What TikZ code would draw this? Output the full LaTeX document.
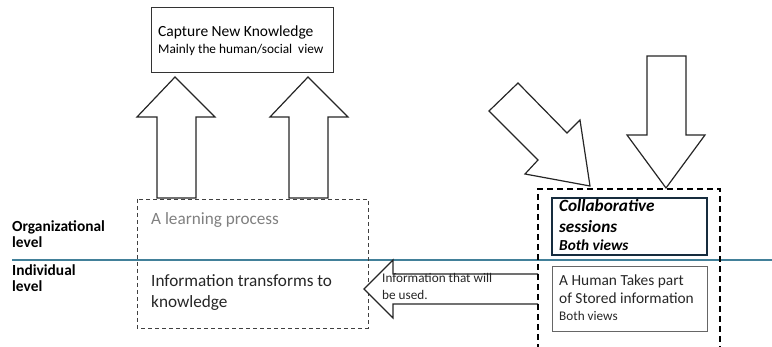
\documentclass[tikz,border=0pt]{standalone}
\usepackage{fontspec}
\setmainfont{Carlito}
\begin{document}
\begin{tikzpicture}[x=1pt,y=-1pt,
  blockarrow/.style={draw=black!85,line width=1.2pt,fill=white,line join=miter},
  plainbox/.style={draw=black!80,line width=1pt,minimum width=0pt,inner sep=0pt},
  txt/.style={anchor=base west,inner sep=0pt},
  midtxt/.style={txt,font=\fontsize{15.4}{17}\selectfont},
  smalltxt/.style={txt,font=\fontsize{13.2}{15}\selectfont},
  leveltxt/.style={txt,font=\bfseries\fontsize{15.4}{17}\selectfont}]
\useasboundingbox (0,0) rectangle (772,347);
\clip (0,0) rectangle (772,347);

% top box
\draw[plainbox] (151,8) rectangle (333,73);
\node[txt,font=\fontsize{15.5}{17}\selectfont] (cap1) at (158,37) {Capture New Knowledge};
\node[txt,font=\fontsize{13.3}{15}\selectfont] (cap2) at (158,54) {Mainly the human/social\ \ view};

% upward block arrows
\draw[blockarrow] (157,198) -- (157,117) -- (137,117) -- (175,77) -- (215,117) -- (196,117) -- (196,198) -- cycle;
\draw[blockarrow] (289,198) -- (289,117) -- (270,117) -- (308,77) -- (348,117) -- (328,117) -- (328,198) -- cycle;

% diagonal block arrow
\draw[blockarrow] (518,83) -- (567,133) -- (580,120) -- (590,186) -- (525,174) -- (538,160) -- (489,111) -- cycle;

% downward block arrow
\draw[blockarrow] (647,56) -- (686,56) -- (686,135) -- (705,135) -- (666,188) -- (627,135) -- (647,135) -- cycle;

% level separator
\draw[draw={rgb,255:red,66;green,128;blue,153},line width=1.3pt] (12,260) -- (772,260);
\node[leveltxt] (org1) at (12,232) {Organizational};
\node[leveltxt] (org2) at (12,248) {level};
\node[leveltxt] (ind1) at (12,276) {Individual};
\node[leveltxt] (ind2) at (12,292) {level};

% learning process frame
\draw[draw=black!75,line width=0.9pt,dash pattern=on 4pt off 3pt] (137,199) rectangle (368,328);
\node[txt,font=\fontsize{17.2}{19}\selectfont,text=black!50] (learn) at (151,225) {A learning process};
\node[txt,font=\fontsize{17.2}{19}\selectfont,text=black!85] (inf1) at (151,287) {Information transforms to};
\node[txt,font=\fontsize{17.2}{19}\selectfont,text=black!85] (inf2) at (151,308) {knowledge};

% leftward block arrow
\draw[blockarrow] (538,274) -- (393,274) -- (393,260) -- (364,289) -- (393,318) -- (393,304) -- (538,304);
\node[smalltxt,text=black!85] (use1) at (382,283) {Information that will};
\node[smalltxt,text=black!85] (use2) at (382,300) {be used.};

% collaborative frame
\draw[draw=black,line width=1.6pt,dash pattern=on 6pt off 4pt] (538,360) -- (538,189) -- (720,189) -- (720,360);
\draw[draw={rgb,255:red,22;green,44;blue,62},line width=1.6pt] (552,198) rectangle (707,255);
\node[txt,font=\bfseries\itshape\fontsize{17.2}{19}\selectfont] (col1) at (559,212) {Collaborative};
\node[txt,font=\bfseries\itshape\fontsize{17.2}{19}\selectfont] (col2) at (559,233) {sessions};
\node[txt,font=\bfseries\itshape\fontsize{15.3}{17}\selectfont] (col3) at (559,251) {Both views};

\draw[draw=black!60,line width=1pt] (552,267) rectangle (707,332);
\node[midtxt,text=black!85] (hum1) at (559,286) {A Human Takes part};
\node[midtxt,text=black!85] (hum2) at (559,304) {of Stored information};
\node[smalltxt,text=black!85] (hum3) at (559,321) {Both views};
\end{tikzpicture}
\end{document}
